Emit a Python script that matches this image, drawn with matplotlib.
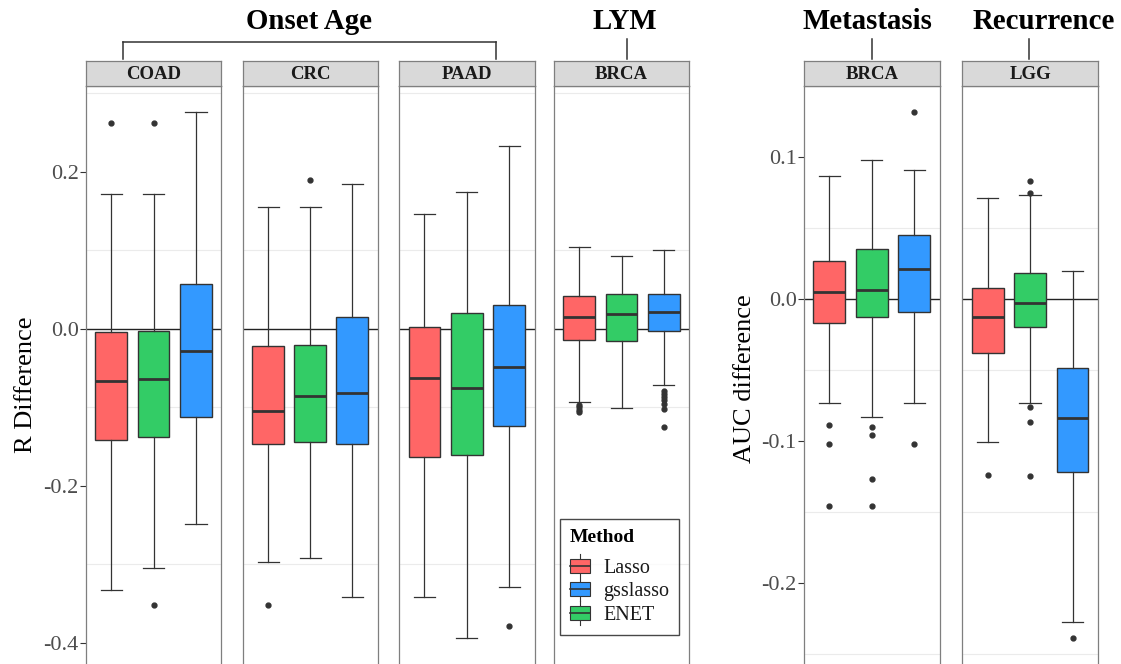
import matplotlib
matplotlib.use("Agg")
import matplotlib.pyplot as plt
from matplotlib.patches import Rectangle
from matplotlib.lines import Line2D
from matplotlib.legend_handler import HandlerBase

plt.rcParams['font.family'] = ['Liberation Serif', 'DejaVu Serif']

W, H = 1121, 664

# ---------------- data ----------------
methods = ["Lasso", "ENET", "gsslasso"]          # order of boxes in each panel
legend_order = ["Lasso", "gsslasso", "ENET"]     # order in legend
colors = {"Lasso": "#FF6666", "ENET": "#33CC66", "gsslasso": "#3399FF"}

panel_names = ["COAD", "CRC", "PAAD", "BRCA", "BRCA", "LGG"]
group_titles = ["Onset Age", "LYM", "Metastasis", "Recurrence"]

# five-number summaries: [whislo, q1, median, q3, whishi]
coad_lasso = [-0.332, -0.142, -0.066, -0.004, 0.172]
coad_enet = [-0.305, -0.137, -0.064, -0.003, 0.172]
coad_gss = [-0.249, -0.112, -0.028, 0.057, 0.276]
crc_lasso = [-0.297, -0.146, -0.105, -0.022, 0.155]
crc_enet = [-0.292, -0.144, -0.085, -0.021, 0.155]
crc_gss = [-0.341, -0.147, -0.081, 0.015, 0.185]
paad_lasso = [-0.341, -0.163, -0.062, 0.003, 0.146]
paad_enet = [-0.394, -0.160, -0.075, 0.020, 0.175]
paad_gss = [-0.329, -0.123, -0.049, 0.031, 0.233]
lym_lasso = [-0.093, -0.014, 0.015, 0.042, 0.104]
lym_enet = [-0.101, -0.015, 0.019, 0.044, 0.093]
lym_gss = [-0.071, -0.003, 0.021, 0.045, 0.101]
meta_lasso = [-0.073, -0.017, 0.005, 0.027, 0.087]
meta_enet = [-0.083, -0.013, 0.006, 0.035, 0.098]
meta_gss = [-0.073, -0.009, 0.021, 0.045, 0.091]
lgg_lasso = [-0.101, -0.038, -0.013, 0.008, 0.071]
lgg_enet = [-0.073, -0.020, -0.003, 0.018, 0.073]
lgg_gss = [-0.228, -0.122, -0.084, -0.049, 0.020]

# outliers
coad_lasso_out = [0.263]
coad_enet_out = [0.262, -0.352]
coad_gss_out = []
crc_lasso_out = [-0.352]
crc_enet_out = [0.190]
crc_gss_out = []
paad_lasso_out = []
paad_enet_out = []
paad_gss_out = [-0.378]
lym_lasso_out = [-0.097, -0.100, -0.103, -0.106]
lym_enet_out = []
lym_gss_out = [-0.079, -0.083, -0.087, -0.091, -0.095, -0.102, -0.125]
meta_lasso_out = [-0.089, -0.102, -0.146]
meta_enet_out = [-0.090, -0.096, -0.127, -0.146]
meta_gss_out = [0.132, -0.102]
lgg_lasso_out = [-0.124]
lgg_enet_out = [0.075, 0.083, -0.076, -0.087, -0.125]
lgg_gss_out = [-0.239]

panel_stats = [
    (coad_lasso, coad_enet, coad_gss),
    (crc_lasso, crc_enet, crc_gss),
    (paad_lasso, paad_enet, paad_gss),
    (lym_lasso, lym_enet, lym_gss),
    (meta_lasso, meta_enet, meta_gss),
    (lgg_lasso, lgg_enet, lgg_gss),
]
panel_out = [
    (coad_lasso_out, coad_enet_out, coad_gss_out),
    (crc_lasso_out, crc_enet_out, crc_gss_out),
    (paad_lasso_out, paad_enet_out, paad_gss_out),
    (lym_lasso_out, lym_enet_out, lym_gss_out),
    (meta_lasso_out, meta_enet_out, meta_gss_out),
    (lgg_lasso_out, lgg_enet_out, lgg_gss_out),
]

left_ticks = [-0.4, -0.2, 0.0, 0.2]
left_minor = [-0.3, -0.1, 0.1, 0.3]
right_ticks = [-0.2, -0.1, 0.0, 0.1]
right_minor = [-0.25, -0.15, -0.05, 0.05]

# ---------------- layout (pixels) ----------------
panel_x = [(85.7, 221.4), (242.9, 377.5), (399.0, 534.6),
           (553.7, 689.3), (803.7, 940.0), (962.2, 1098.0)]
strip_top, panel_top, panel_bot = 61.3, 85.7, 664.0
left_ylim = (-0.4268, 0.3099)
right_ylim = (-0.2574, 0.1504)

GRAY_EDGE = "#7F7F7F"
DARK = "#333333"


def fx(x):
    return x / W


def fy(y):
    return 1 - y / H


fig = plt.figure(figsize=(W / 100, H / 100), dpi=100)
fig.patch.set_facecolor("white")

for i, (x0, x1) in enumerate(panel_x):
    ax = fig.add_axes([fx(x0), fy(panel_bot), fx(x1) - fx(x0), fy(panel_top) - fy(panel_bot)])
    left_group = i < 4
    ax.set_ylim(*(left_ylim if left_group else right_ylim))
    ax.set_xlim(-1.6, 1.6)
    for g in (left_minor if left_group else right_minor):
        ax.axhline(g, color="#EBEBEB", lw=0.8, zorder=0)
    ax.axhline(0, color="#222222", lw=1.0, zorder=1)

    stats = []
    for m, s, o in zip(methods, panel_stats[i], panel_out[i]):
        stats.append(dict(whislo=s[0], q1=s[1], med=s[2], q3=s[3], whishi=s[4],
                          fliers=o, label=m))
    bp = ax.bxp(stats, positions=[-1, 0, 1], widths=0.75, capwidths=0.5,
                patch_artist=True, showfliers=True,
                boxprops=dict(edgecolor=DARK, linewidth=1.0),
                whiskerprops=dict(color=DARK, linewidth=0.9),
                capprops=dict(color=DARK, linewidth=0.9),
                medianprops=dict(color=DARK, linewidth=2.0),
                flierprops=dict(marker="o", markersize=3.5, markerfacecolor=DARK,
                                markeredgecolor=DARK, linestyle="none"),
                manage_ticks=False, zorder=2)
    for patch, m in zip(bp["boxes"], methods):
        patch.set_facecolor(colors[m])

    ax.set_xticks([])
    for side in ("top", "left", "right"):
        ax.spines[side].set_color(GRAY_EDGE)
        ax.spines[side].set_linewidth(0.9)
    ax.spines["bottom"].set_visible(False)

    if i in (0, 4):
        ticks = left_ticks if left_group else right_ticks
        ax.set_yticks(ticks)
        ax.set_yticklabels([f"{t:.1f}" for t in ticks])
        ax.tick_params(axis="y", length=4, width=0.8, color=DARK, labelcolor="#4D4D4D",
                       labelsize=16, pad=1)
    else:
        ax.set_yticks([])

    # strip
    sax = fig.add_axes([fx(x0), fy(panel_top), fx(x1) - fx(x0), fy(strip_top) - fy(panel_top)])
    sax.set_facecolor("#D9D9D9")
    sax.set_xticks([])
    sax.set_yticks([])
    for sp in sax.spines.values():
        sp.set_color(GRAY_EDGE)
        sp.set_linewidth(0.9)
    sax.text(0.5, 0.45, panel_names[i], ha="center", va="center", fontsize=13.5,
             fontweight="bold", color="#1A1A1A", transform=sax.transAxes)

# axis titles
fig.text(fx(26), fy(385), "R Difference", rotation=90, ha="center", va="center",
         fontsize=19, color="black")
fig.text(fx(745), fy(379), "AUC difference", rotation=90, ha="center", va="center",
         fontsize=19, color="black")

# group titles and brackets
title_pos = [(309, 21.7), (625, 21.7), (867, 21.7), (1044, 21.7)]
for t, (x, y) in zip(group_titles, title_pos):
    fig.text(fx(x), fy(y), t, ha="center", va="center", fontsize=20.8,
             fontweight="bold", color="black")

line_kw = dict(color="#333333", lw=1.1, transform=fig.transFigure)
# Onset Age bracket
fig.add_artist(Line2D([fx(123), fx(496)], [fy(42), fy(42)], **line_kw))
fig.add_artist(Line2D([fx(123), fx(123)], [fy(42), fy(59)], **line_kw))
fig.add_artist(Line2D([fx(496), fx(496)], [fy(42), fy(59)], **line_kw))
for xl in (627, 871.5, 1029):
    fig.add_artist(Line2D([fx(xl), fx(xl)], [fy(39), fy(59)], **line_kw))


# ---------------- legend ----------------
class BoxHandler(HandlerBase):
    def create_artists(self, legend, orig_handle, xdescent, ydescent,
                       width, height, fontsize, trans):
        w = width
        x0 = -xdescent
        y0 = -ydescent
        rect = Rectangle((x0, y0 + height * 0.05), w, height * 0.9,
                         facecolor=orig_handle.get_facecolor(), edgecolor=DARK,
                         lw=0.8, transform=trans)
        cx = x0 + w / 2
        med = Line2D([x0, x0 + w], [y0 + height / 2] * 2, color=DARK, lw=1.2, transform=trans)
        wt = Line2D([cx, cx], [y0 + height * 0.95, y0 + height * 1.25], color=DARK, lw=0.8,
                    transform=trans)
        wb = Line2D([cx, cx], [y0 - height * 0.25, y0 + height * 0.05], color=DARK, lw=0.8,
                    transform=trans)
        return [wt, wb, rect, med]


handles = [Rectangle((0, 0), 1, 1, facecolor=colors[m]) for m in legend_order]
leg = fig.legend(handles, legend_order, handler_map={Rectangle: BoxHandler()},
                 loc="upper left", bbox_to_anchor=(fx(560), fy(519)),
                 title="Method", title_fontproperties={"weight": "bold", "size": 14},
                 fontsize=14.5, frameon=True, fancybox=False, handlelength=1.0,
                 handleheight=0.8, handletextpad=0.65, labelspacing=0.2,
                 borderpad=0.5, alignment="left", borderaxespad=0)
try:
    leg._legend_box.sep = 8.5
except Exception:
    pass
leg.get_frame().set_edgecolor("#1A1A1A")
leg.get_frame().set_linewidth(1.0)
for txt in leg.get_texts():
    txt.set_color("#1A1A1A")

fig.savefig("out.png", dpi=100, facecolor="white")
